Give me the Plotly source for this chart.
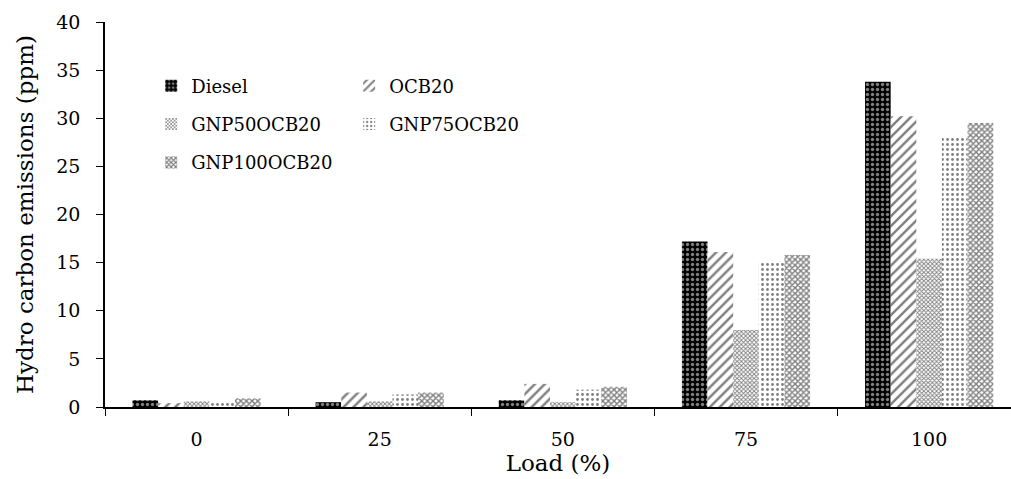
import plotly.graph_objects as go

loads = ["0", "25", "50", "75", "100"]
diesel = [0.7, 0.5, 0.7, 17.2, 33.8]
ocb20 = [0.4, 1.5, 2.4, 16.1, 30.2]
gnp50 = [0.6, 0.6, 0.5, 8.0, 15.4]
gnp75 = [0.5, 1.3, 1.8, 15.1, 28.1]
gnp100 = [0.9, 1.5, 2.1, 15.8, 29.5]

FONT = "DejaVu Serif"

series = [
    ("Diesel", diesel, dict(shape=".", bgcolor="black", fgcolor="white", size=5, solidity=0.35), "legend"),
    ("OCB20", ocb20, dict(shape="/", bgcolor="white", fgcolor="black", size=7, solidity=0.35), "legend2"),
    ("GNP50OCB20", gnp50, dict(shape="x", bgcolor="white", fgcolor="black", size=3, solidity=0.5), "legend"),
    ("GNP75OCB20", gnp75, dict(shape=".", bgcolor="white", fgcolor="black", size=5, solidity=0.25), "legend2"),
    ("GNP100OCB20", gnp100, dict(shape="x", bgcolor="white", fgcolor="black", size=4, solidity=0.6), "legend"),
]

fig = go.Figure()
for name, vals, pat, leg in series:
    fig.add_trace(go.Bar(
        x=loads, y=vals, name=name, legend=leg, legendgroup=name,
        marker=dict(color="white", pattern=pat, line=dict(width=0)),
    ))

leg_common = dict(orientation="v", xanchor="left", yanchor="top",
                  font=dict(family=FONT, size=18), bgcolor="rgba(0,0,0,0)",
                  tracegroupgap=12, itemwidth=30)

fig.update_layout(
    width=1011, height=479,
    margin=dict(l=105, r=0, t=22, b=72),
    plot_bgcolor="white", paper_bgcolor="white",
    barmode="group", bargap=0.3, bargroupgap=0,
    font=dict(family=FONT, color="black", size=17),
    legend=dict(x=0.051, y=0.882, **leg_common),
    legend2=dict(x=0.2695, y=0.882, **leg_common),
    xaxis=dict(
        title=dict(text="Load (%)", font=dict(size=23), standoff=5),
        range=[-0.5, 4.447],
        showline=True, linecolor="black", linewidth=1.5,
        ticks="outside", tickson="boundaries", ticklen=7, tickcolor="black",
        ticklabelstandoff=14,
        tickfont=dict(size=19), showgrid=False,
    ),
    yaxis=dict(
        title=dict(text="Hydro carbon emissions (ppm)", font=dict(size=23), standoff=16),
        range=[0, 40], dtick=5,
        showline=True, linecolor="black", linewidth=1.5,
        ticks="outside", ticklen=7, tickcolor="black",
        ticklabelstandoff=12,
        tickfont=dict(size=19), showgrid=False, zeroline=False,
    ),
)

fig.write_html("out.html")
